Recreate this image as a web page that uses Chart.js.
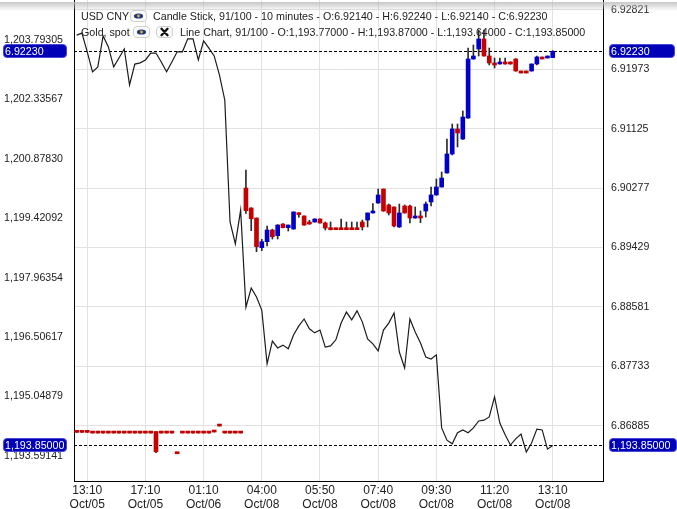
<!DOCTYPE html>
<html>
<head>
<meta charset="utf-8">
<script src="https://cdn.jsdelivr.net/npm/chart.js@4.4.0/dist/chart.umd.min.js"></script>
<style>
  html, body { margin: 0; padding: 0; background: #fff; }
  #wrap { position: relative; width: 677px; height: 509px; overflow: hidden; font-family: 'Liberation Sans', Arial, sans-serif; }
  #chartCanvas { position: absolute; left: 0; top: 0; }
  .tool { position: absolute; top: -12px; height: 12px; border: 1px solid #9c9c9c; background: #f2f2f2; border-radius: 2px; box-sizing: border-box; }
  #shade { position: absolute; left: 0; top: 2px; width: 677px; height: 9px; background: linear-gradient(rgba(190,190,190,0.85), rgba(255,255,255,0)); }
  .lg { position: absolute; font-size: 10.7px; line-height: 14px; height: 14px; color: #222; white-space: nowrap; }
  .btn { position: absolute; width: 17px; height: 12px; border: 1px solid #cfcfcf; border-radius: 4px; background: #fbfbfb; box-sizing: border-box; }
  .btn svg { position: absolute; left: 0; top: 0; }
  .tag { position: absolute; height: 14px; line-height: 13px; font-size: 10.7px; color: #fff; background: #0000b8; border: 1px solid #4848d8; border-radius: 4px; padding-left: 1px; box-sizing: border-box; white-space: nowrap; }
</style>
</head>
<body>
<div id="wrap">
  <canvas id="chartCanvas" width="677" height="509"></canvas>
  <div id="toolbar"></div>
  <div id="shade"></div>
  <div class="lg" id="cnyName" style="left:81px;top:9px">USD CNY</div>
  <div class="btn" style="left:130px;top:10px"><svg width="15" height="10" viewBox="0 0 15 10"><ellipse cx="7.5" cy="5" rx="4.6" ry="2.6" fill="#1d3c86"/><circle cx="7.5" cy="5" r="1.4" fill="#f2a431"/></svg></div>
  <div class="lg" id="cnyInfo" style="left:153px;top:9px"></div>
  <div class="lg" id="goldName" style="left:81px;top:25px">Gold, spot</div>
  <div class="btn" style="left:133px;top:26px"><svg width="15" height="10" viewBox="0 0 15 10"><ellipse cx="7.5" cy="5" rx="4.6" ry="2.6" fill="#1d3c86"/><circle cx="7.5" cy="5" r="1.4" fill="#f2a431"/></svg></div>
  <div class="btn" style="left:156px;top:26px"><svg width="15" height="10" viewBox="0 0 15 10"><path d="M4.5 1.8 L10.5 8.2 M10.5 1.8 L4.5 8.2" stroke="#111" stroke-width="2.4" stroke-linecap="round"/></svg></div>
  <div class="lg" id="goldInfo" style="left:180px;top:25px"></div>
  <div class="tag" id="tagCnyL" style="left:3px;width:64px"></div>
  <div class="tag" id="tagCnyR" style="left:609px;width:66px"></div>
  <div class="tag" id="tagGoldL" style="left:3px;width:64px"></div>
  <div class="tag" id="tagGoldR" style="left:609px;width:68px"></div>
</div>
<script>
// x axis: 100 slots, 91 bars shown, a label every 11 bars
const slotCount = 100;
const tickIndex = [2, 13, 24, 35, 46, 57, 68, 79, 90];
const tickTimes = ['13:10', '17:10', '01:10', '04:00', '05:50', '07:40', '09:30', '11:20', '13:10'];
const tickDates = ['Oct/05', 'Oct/05', 'Oct/06', 'Oct/08', 'Oct/08', 'Oct/08', 'Oct/08', 'Oct/08', 'Oct/08'];

// left axis (Gold, spot) and right axis (USD CNY)
const goldTicks = [1193.59141, 1195.04879, 1196.50617, 1197.96354, 1199.42092, 1200.87830, 1202.33567, 1203.79305];
const goldRange = [1192.97852, 1204.77062];
const cnyTicks = [6.86885, 6.87733, 6.88581, 6.89429, 6.90277, 6.91125, 6.91973, 6.92821];
const cnyRange = [6.860956, 6.929623];

// USD CNY candles, 10 minutes
const openPrices = [
  6.86810, 6.86810, 6.86810, 6.86802, 6.86802, 6.86802, 6.86802, 6.86802, 6.86802, 6.86802,
  6.86802, 6.86802, 6.86802, 6.86802, 6.86802, 6.86802, 6.86802, 6.86802, 6.86802, 6.86505,
  6.86802, 6.86802, 6.86802, 6.86802, 6.86802, 6.86802, 6.86815, 6.86900, 6.86802, 6.86802,
  6.86802, 6.86802, 6.90278, 6.89993, 6.89850, 6.89427, 6.89512, 6.89679, 6.89598, 6.89764,
  6.89712, 6.89693, 6.89922, 6.89879, 6.89793, 6.89793, 6.89836, 6.89779, 6.89707, 6.89707,
  6.89707, 6.89707, 6.89707, 6.89707, 6.89793, 6.89821, 6.89922, 6.90064, 6.90264, 6.90036,
  6.90007, 6.89722, 6.90021, 6.90021, 6.89850, 6.89879, 6.89950, 6.90079, 6.90179, 6.90293,
  6.90493, 6.90764, 6.91121, 6.90978, 6.91278, 6.92120, 6.92263, 6.92406, 6.92163, 6.92063,
  6.92049, 6.92077, 6.92077, 6.92120, 6.91949, 6.91949, 6.91949, 6.92049, 6.92149, 6.92134,
  6.92140
];
const highPrices = [
  6.86810, 6.86810, 6.86810, 6.86802, 6.86802, 6.86802, 6.86802, 6.86802, 6.86802, 6.86802,
  6.86802, 6.86802, 6.86802, 6.86802, 6.86802, 6.86802, 6.86802, 6.86802, 6.86802, 6.86505,
  6.86802, 6.86802, 6.86802, 6.86802, 6.86802, 6.86802, 6.86815, 6.86900, 6.86802, 6.86802,
  6.86802, 6.86802, 6.90535, 6.89998, 6.89852, 6.89546, 6.89736, 6.89690, 6.89755, 6.89770,
  6.89750, 6.89940, 6.89925, 6.89880, 6.89817, 6.89840, 6.89840, 6.89793, 6.89793, 6.89707,
  6.89836, 6.89793, 6.89793, 6.89793, 6.89821, 6.89922, 6.90055, 6.90264, 6.90264, 6.90050,
  6.90010, 6.90050, 6.90036, 6.90036, 6.90007, 6.89950, 6.90079, 6.90293, 6.90407, 6.90507,
  6.90978, 6.91192, 6.91192, 6.91378, 6.92277, 6.92320, 6.92534, 6.92534, 6.92277, 6.92134,
  6.92134, 6.92134, 6.92080, 6.92125, 6.91949, 6.91949, 6.92050, 6.92163, 6.92149, 6.92163,
  6.92240
];
const lowPrices = [
  6.86790, 6.86790, 6.86790, 6.86780, 6.86780, 6.86780, 6.86780, 6.86780, 6.86780, 6.86780,
  6.86780, 6.86780, 6.86780, 6.86780, 6.86780, 6.86500, 6.86780, 6.86780, 6.86780, 6.86485,
  6.86780, 6.86780, 6.86780, 6.86780, 6.86780, 6.86780, 6.86795, 6.86880, 6.86780, 6.86780,
  6.86780, 6.86780, 6.89917, 6.89669, 6.89369, 6.89384, 6.89450, 6.89550, 6.89550, 6.89707,
  6.89664, 6.89690, 6.89860, 6.89745, 6.89760, 6.89790, 6.89775, 6.89679, 6.89680, 6.89683,
  6.89683, 6.89683, 6.89683, 6.89683, 6.89679, 6.89722, 6.89920, 6.90060, 6.89945, 6.89893,
  6.89722, 6.89715, 6.89920, 6.89779, 6.89845, 6.89783, 6.89864, 6.90021, 6.90175, 6.90290,
  6.90490, 6.90750, 6.90864, 6.90970, 6.91270, 6.92115, 6.92163, 6.92160, 6.92034, 6.91992,
  6.92045, 6.92045, 6.92045, 6.91945, 6.91920, 6.91920, 6.91945, 6.92034, 6.92120, 6.92134,
  6.92140
];
const closePrices = [
  6.86790, 6.86790, 6.86790, 6.86780, 6.86780, 6.86780, 6.86780, 6.86780, 6.86780, 6.86780,
  6.86780, 6.86780, 6.86780, 6.86780, 6.86780, 6.86513, 6.86780, 6.86780, 6.86780, 6.86485,
  6.86780, 6.86780, 6.86780, 6.86780, 6.86780, 6.86780, 6.86795, 6.86880, 6.86780, 6.86780,
  6.86780, 6.86780, 6.89955, 6.89840, 6.89440, 6.89512, 6.89679, 6.89583, 6.89750, 6.89712,
  6.89750, 6.89936, 6.89898, 6.89750, 6.89764, 6.89836, 6.89779, 6.89707, 6.89683, 6.89683,
  6.89683, 6.89683, 6.89683, 6.89683, 6.89722, 6.89922, 6.89950, 6.90179, 6.89950, 6.89922,
  6.89736, 6.89922, 6.89922, 6.89850, 6.89879, 6.89850, 6.90050, 6.90179, 6.90293, 6.90421,
  6.90764, 6.91121, 6.91064, 6.91292, 6.92120, 6.92163, 6.92406, 6.92163, 6.92063, 6.92034,
  6.92077, 6.92049, 6.92049, 6.91949, 6.91920, 6.91920, 6.92049, 6.92149, 6.92120, 6.92163,
  6.92230
];

// Gold, spot line
const goldSpot = [
  1203.91, 1203.96, 1203.50, 1203.01, 1203.13, 1203.89, 1203.62, 1203.13, 1203.35, 1203.57,
  1202.69, 1203.20, 1203.23, 1203.30, 1203.47, 1203.47, 1203.25, 1203.01, 1203.25, 1203.50,
  1203.50, 1203.82, 1203.82, 1203.30, 1203.77, 1203.59, 1203.40, 1202.93, 1202.32, 1199.33,
  1198.79, 1199.62, 1197.24, 1197.71, 1197.49, 1197.17, 1195.85, 1196.41, 1196.24, 1196.31,
  1196.22, 1196.56, 1196.78, 1196.95, 1196.71, 1196.61, 1196.68, 1196.26, 1196.29, 1196.44,
  1196.85, 1197.12, 1196.93, 1197.15, 1196.88, 1196.46, 1196.34, 1196.17, 1196.68, 1196.85,
  1197.10, 1196.14, 1195.75, 1196.95, 1196.63, 1196.36, 1196.02, 1195.97, 1196.07, 1194.28,
  1193.98, 1193.89, 1194.16, 1194.23, 1194.16, 1194.28, 1194.45, 1194.47, 1194.55, 1195.04,
  1194.40, 1194.11, 1193.86, 1194.01, 1194.13, 1193.69, 1193.91, 1194.25, 1194.23, 1193.76,
  1193.85
];
// last gold bar: open, high, low, close
const goldLastBar = [1193.77, 1193.87, 1193.64, 1193.85];

const FONT = "'Liberation Sans', Arial, sans-serif";

function fmtGold(v) {
  const parts = v.toFixed(5).split('.');
  return parts[0].replace(/\B(?=(\d{3})+(?!\d))/g, ',') + '.' + parts[1];
}

// toolbar strip at the very top (only its lower edge is visible)
const toolBoxes = [[0, 142], [146, 188], [193, 235], [247, 288], [293, 335], [339, 382], [386, 427], [432, 473], [478, 519], [524, 565], [570, 611], [616, 657], [662, 700]];
toolBoxes.forEach(b => {
  const d = document.createElement('div');
  d.className = 'tool';
  d.style.left = b[0] + 'px';
  d.style.width = (b[1] - b[0]) + 'px';
  document.getElementById('toolbar').appendChild(d);
});

const last = openPrices.length - 1;
const cnyLast = closePrices[last];
const goldLast = goldLastBar[3];
document.getElementById('cnyInfo').textContent =
  'Candle Stick, 91/100 - 10 minutes - O:' + openPrices[last].toFixed(5) + ' - H:' + highPrices[last].toFixed(5) +
  ' - L:' + lowPrices[last].toFixed(5) + ' - C:' + cnyLast.toFixed(5);
document.getElementById('goldInfo').textContent =
  'Line Chart, 91/100 - O:' + fmtGold(goldLastBar[0]) + ' - H:' + fmtGold(goldLastBar[1]) +
  ' - L:' + fmtGold(goldLastBar[2]) + ' - C:' + fmtGold(goldLastBar[3]);

const labels = Array.from({ length: slotCount }, (_, i) => i);
const bodyData = openPrices.map((o, i) => [Math.min(o, closePrices[i]), Math.max(o, closePrices[i])]);
const wickData = lowPrices.map((l, i) => [l, highPrices[i]]);
const candleColors = openPrices.map((o, i) => closePrices[i] >= o ? '#0000c8' : '#c40000');

// axes keep their fixed sizes, no extra room for overhanging labels
function fixVertical(s) {
  s.width = 74;
  s.paddingTop = 0;
  s.paddingBottom = 0;
}

// dashed last-value lines and the blue price tags on both sides
const lastValuePlugin = {
  id: 'lastValue',
  beforeDatasetsDraw(chart) {
    const { ctx, chartArea: a, scales } = chart;
    ctx.save();
    ctx.strokeStyle = '#000';
    ctx.lineWidth = 1;
    ctx.setLineDash([3, 2]);
    [scales.y2.getPixelForValue(cnyLast), scales.y.getPixelForValue(goldLast)].forEach(py => {
      const yy = Math.round(py) + 0.5;
      ctx.beginPath();
      ctx.moveTo(a.left, yy);
      ctx.lineTo(a.right, yy);
      ctx.stroke();
    });
    ctx.restore();
  },
  afterDraw(chart) {
    const yc = chart.scales.y2.getPixelForValue(cnyLast);
    const yg = chart.scales.y.getPixelForValue(goldLast);
    ['tagCnyL', 'tagCnyR'].forEach(id => {
      const el = document.getElementById(id);
      el.textContent = cnyLast.toFixed(5);
      el.style.top = Math.round(yc - 7) + 'px';
    });
    ['tagGoldL', 'tagGoldR'].forEach(id => {
      const el = document.getElementById(id);
      el.textContent = fmtGold(goldLast);
      el.style.top = Math.round(yg - 7) + 'px';
    });
  }
};

new Chart(document.getElementById('chartCanvas').getContext('2d'), {
  type: 'bar',
  data: {
    labels: labels,
    datasets: [
      {
        type: 'line',
        label: 'Gold, spot',
        data: goldSpot,
        yAxisID: 'y',
        borderColor: '#1c1c1c',
        borderWidth: 1.2,
        pointRadius: 0,
        tension: 0,
        order: 0
      },
      {
        label: 'USD CNY body',
        data: bodyData,
        yAxisID: 'y2',
        backgroundColor: candleColors,
        barThickness: 4,
        minBarLength: 2,
        grouped: false,
        borderSkipped: false,
        order: 1
      },
      {
        label: 'USD CNY wick',
        data: wickData,
        yAxisID: 'y2',
        backgroundColor: '#2a2a2a',
        barThickness: 1,
        grouped: false,
        borderSkipped: false,
        order: 2
      }
    ]
  },
  options: {
    responsive: false,
    animation: false,
    layout: { padding: 0 },
    plugins: {
      legend: { display: false },
      tooltip: { enabled: false }
    },
    scales: {
      x: {
        type: 'category',
        offset: true,
        afterBuildTicks: s => { s.ticks = tickIndex.map(v => ({ value: v })); },
        afterFit: s => { s.height = 28; s.paddingLeft = 0; s.paddingRight = 0; },
        grid: { offset: false, color: '#e2e2e2', drawTicks: false },
        border: { color: '#000', width: 1 },
        ticks: {
          autoSkip: false,
          maxRotation: 0,
          padding: 2,
          color: '#222',
          font: { family: FONT, size: 12 },
          callback: function (value, index) {
            return [tickTimes[index], tickDates[index]];
          }
        }
      },
      y: {
        position: 'left',
        min: goldRange[0],
        max: goldRange[1],
        afterBuildTicks: s => { s.ticks = goldTicks.map(v => ({ value: v })); },
        afterFit: fixVertical,
        grid: { display: false, drawTicks: false },
        border: { display: true, color: '#000', width: 1 },
        ticks: {
          padding: 11,
          color: '#222',
          font: { family: FONT, size: 10.6 },
          callback: function (value) { return fmtGold(value); }
        }
      },
      y2: {
        position: 'right',
        min: cnyRange[0],
        max: cnyRange[1],
        afterBuildTicks: s => { s.ticks = cnyTicks.map(v => ({ value: v })); },
        afterFit: fixVertical,
        grid: { color: '#e2e2e2', drawTicks: false },
        border: { display: true, color: '#000', width: 1 },
        ticks: {
          padding: 8,
          color: '#222',
          font: { family: FONT, size: 10.6 },
          callback: function (value) { return value.toFixed(5); }
        }
      }
    }
  },
  plugins: [lastValuePlugin]
});
</script>
</body>
</html>
